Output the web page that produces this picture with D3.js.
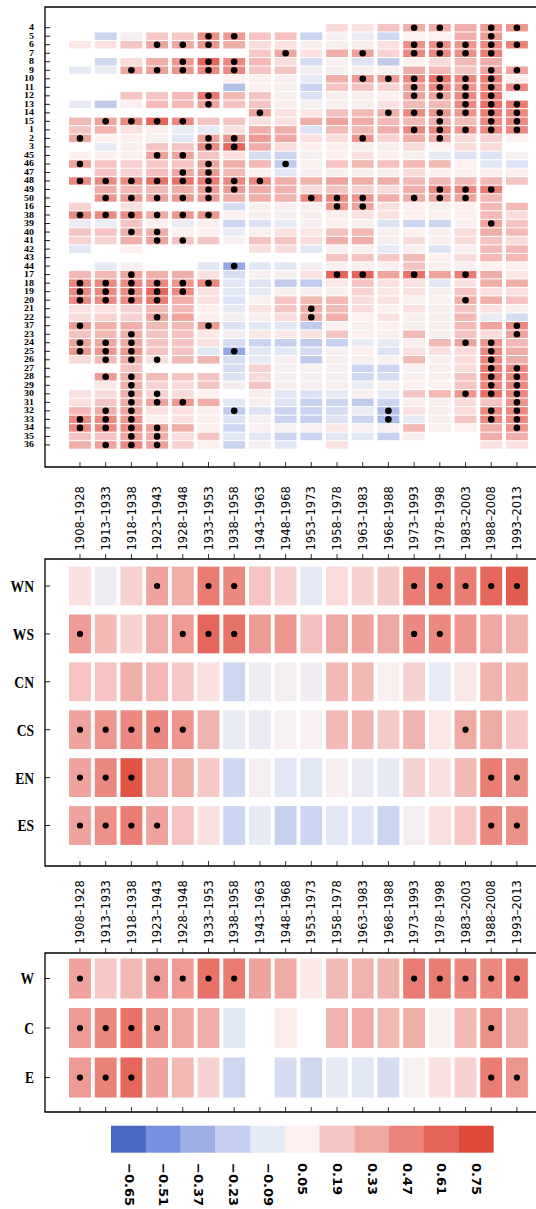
<!DOCTYPE html>
<html>
<head>
<meta charset="utf-8">
<script src="https://cdn.jsdelivr.net/npm/d3@7"></script>
<style>
  body { margin: 0; background: #fff; }
  svg { display: block; }
</style>
</head>
<body>
<svg id="chart" width="536" height="1209"></svg>
<script>
// 20-year moving windows
const periods = ["1908–1928","1913–1933","1918–1938","1923–1943","1928–1948","1933–1953",
  "1938–1958","1943–1963","1948–1968","1953–1973","1958–1978","1963–1983","1968–1988",
  "1973–1993","1978–1998","1983–2003","1988–2008","1993–2013"];

// station rows, top to bottom
const stations = ["4","5","6","7","8","9","10","11","12","13","14","15","1","2","3",
  "45","46","47","48","49","50","16","38","39","40","41","42","43","44","17","18","19",
  "20","21","22","37","23","24","25","26","27","28","29","30","31","32","33","34","35","36"];

// station correlation values (null = no data)
const stationValues = [
  [null,null,null,null,null,null,null,null,null,null,0.12,0.1,0.2,0.3,0.3,0.3,0.38,0.4],
  [null,-0.2,0.02,0.18,0.18,0.42,0.38,0.2,0.22,-0.2,0.02,-0.05,-0.18,0.05,0.05,0.3,0.38,null],
  [0.08,0.1,0.2,0.33,0.33,0.4,0.3,0.12,0.1,0.03,0.03,0.03,0.1,0.42,0.42,0.4,0.45,0.48],
  [null,null,null,null,null,null,null,0.18,0.33,0.1,0.3,0.35,0.15,0.45,0.45,0.42,0.48,null],
  [null,-0.18,0.12,0.3,0.4,0.6,0.45,0.25,0.12,-0.15,0.02,-0.12,-0.25,0.05,0.12,0.25,0.3,null],
  [-0.08,-0.05,0.33,0.36,0.4,0.45,0.45,0.2,0.2,0.0,0.03,0.03,0.03,0.3,0.25,0.2,0.35,0.35],
  [null,null,null,null,null,null,0.05,0.05,0.03,-0.08,0.3,0.38,0.38,0.45,0.55,0.45,0.5,0.03],
  [null,null,null,null,null,null,-0.3,0.05,0.03,-0.2,0.2,0.2,0.15,0.35,0.45,0.4,0.45,0.45],
  [null,null,0.2,0.2,0.25,0.52,0.25,0.2,0.03,-0.12,0.03,0.03,0.05,0.35,0.35,0.45,0.5,null],
  [-0.08,-0.25,0.02,0.25,0.25,0.35,0.2,0.2,0.03,0.02,0.03,0.03,0.1,0.25,0.25,0.45,0.55,0.5],
  [null,null,null,null,null,null,null,0.35,0.1,0.08,0.22,0.25,0.3,0.45,0.4,0.4,0.5,0.45],
  [0.25,0.35,0.45,0.6,0.45,0.2,0.2,0.1,0.1,0.3,0.35,0.3,0.25,0.25,0.3,0.25,0.45,0.45],
  [0.2,0.28,0.1,0.05,-0.05,-0.08,0.1,0.3,0.3,-0.12,0.25,0.25,0.3,0.45,0.45,0.4,0.45,0.45],
  [0.33,0.05,0.05,0.02,-0.1,0.35,0.4,0.38,0.33,0.1,0.12,0.4,0.15,0.3,0.3,0.12,0.15,0.05],
  [null,-0.08,0.03,0.2,0.2,0.45,0.6,0.3,0.12,0.05,0.05,0.03,0.03,0.12,0.05,0.12,0.12,null],
  [0.05,0.05,0.05,0.35,0.35,0.2,0.1,-0.15,-0.2,0.02,0.05,0.1,0.05,0.03,-0.08,-0.12,-0.12,0.02],
  [0.35,0.2,0.15,0.18,0.2,0.35,0.3,0.25,-0.25,0.03,0.2,0.25,0.22,0.25,0.25,0.05,-0.1,-0.12],
  [null,0.2,0.15,0.22,0.33,0.38,0.25,0.05,-0.1,0.02,0.03,0.03,0.03,0.12,0.05,0.05,0.05,0.05],
  [0.45,0.45,0.45,0.55,0.55,0.5,0.45,0.45,0.3,0.28,0.35,0.3,0.3,0.25,0.25,0.25,0.25,0.2],
  [null,0.3,0.25,0.25,0.3,0.38,0.38,0.3,0.28,0.12,0.2,0.15,0.12,0.3,0.45,0.45,0.5,null],
  [null,0.4,0.38,0.35,0.4,0.38,0.3,0.3,0.28,0.45,0.45,0.4,0.3,0.3,0.35,0.35,0.25,null],
  [0.15,null,0.1,null,null,null,-0.15,0.03,0.03,0.02,0.4,0.35,0.1,0.05,0.03,0.05,0.25,0.25],
  [0.45,0.45,0.45,0.3,0.4,0.4,0.05,0.03,0.02,0.03,0.03,0.1,0.1,0.05,0.05,0.05,0.25,0.12],
  [-0.05,-0.05,0.2,0.03,-0.05,0.03,-0.2,-0.12,-0.08,0.02,0.05,0.03,-0.12,-0.2,-0.2,0.03,0.35,0.2],
  [0.2,0.2,0.3,0.3,0.05,0.05,-0.05,0.03,0.1,0.08,0.22,0.25,0.03,0.05,0.03,0.12,0.3,0.25],
  [0.15,0.15,0.3,0.35,0.2,0.2,0.02,0.2,0.2,0.12,0.3,0.3,0.02,0.12,0.03,0.12,0.2,0.12],
  [-0.1,null,0.05,null,null,null,null,0.1,0.12,-0.1,0.03,0.03,-0.08,0.03,-0.12,0.03,0.25,0.25],
  [null,null,null,null,null,null,null,null,null,null,0.2,0.2,0.18,0.25,0.05,0.12,0.25,0.25],
  [null,-0.08,0.03,null,null,-0.1,-0.4,-0.1,-0.1,0.0,0.03,0.03,0.03,0.2,0.03,0.03,0.05,0.05],
  [0.25,0.25,0.35,0.3,0.3,0.1,-0.15,0.02,0.02,0.1,0.6,0.6,0.35,0.55,0.35,0.5,0.3,0.08],
  [0.45,0.45,0.45,0.45,0.4,0.45,-0.1,-0.12,-0.25,-0.25,0.08,0.2,0.1,0.1,-0.1,0.1,0.3,0.3],
  [0.45,0.45,0.45,0.6,0.45,0.1,-0.1,-0.08,0.03,0.02,0.03,0.15,0.08,0.1,0.03,0.2,0.1,0.1],
  [0.45,0.45,0.45,0.5,0.3,0.1,-0.12,0.03,0.2,0.25,0.25,0.12,0.1,0.03,0.03,0.3,0.3,0.2],
  [0.1,0.1,0.15,0.25,0.25,0.05,-0.08,0.1,0.2,0.3,0.25,0.12,0.05,0.1,0.03,0.2,0.1,0.03],
  [0.12,0.15,0.15,0.35,0.35,0.05,0.0,0.03,0.12,0.3,0.3,0.05,0.1,0.03,0.03,0.25,-0.05,-0.15],
  [0.38,0.3,0.3,0.25,0.25,0.38,-0.12,-0.1,-0.1,-0.25,0.03,0.03,0.05,0.03,0.03,0.25,0.35,0.45],
  [0.2,0.25,0.3,0.2,0.2,0.08,0.0,0.08,0.08,0.1,0.2,0.05,0.03,0.25,0.03,0.2,0.12,0.35],
  [0.35,0.33,0.33,0.2,0.2,0.1,-0.15,-0.2,-0.22,-0.25,-0.22,-0.05,-0.08,0.03,0.25,0.35,0.4,0.25],
  [0.4,0.4,0.4,0.2,0.2,-0.1,-0.4,-0.1,-0.1,-0.15,0.02,0.05,-0.12,0.1,0.1,0.12,0.45,0.3],
  [0.12,0.25,0.3,0.1,0.25,0.28,-0.15,-0.08,0.02,-0.25,0.03,0.02,0.02,0.25,0.03,0.12,0.45,0.3],
  [null,null,0.2,null,null,null,-0.15,0.15,0.02,0.02,0.02,-0.2,-0.2,0.02,0.03,0.12,0.5,0.45],
  [null,0.38,0.3,0.25,0.2,0.2,-0.12,0.12,0.02,0.02,0.02,-0.18,-0.15,0.03,0.03,0.2,0.5,0.45],
  [null,0.08,0.3,0.15,0.12,0.2,0.0,0.2,0.02,0.02,0.02,-0.05,0.02,0.05,0.05,0.2,0.45,0.45],
  [0.1,0.12,0.3,0.15,0.12,0.05,null,0.03,-0.1,-0.12,-0.08,0.02,-0.08,0.2,0.25,0.4,0.55,0.45],
  [0.1,0.2,0.3,0.35,0.4,0.3,-0.1,0.03,-0.12,-0.22,-0.2,-0.25,-0.2,0.03,0.03,0.12,0.2,0.4],
  [0.25,0.3,0.35,0.1,0.1,0.05,-0.25,-0.12,-0.2,-0.2,-0.15,-0.05,-0.3,0.1,0.03,0.12,0.45,0.45],
  [0.45,0.45,0.4,0.05,0.1,0.05,-0.12,0.02,-0.2,-0.22,-0.12,-0.2,-0.32,-0.08,0.03,0.2,0.45,0.45],
  [0.45,0.45,0.45,0.35,0.3,0.05,-0.18,0.02,0.02,0.02,0.08,0.02,0.02,0.25,0.03,0.05,0.3,0.4],
  [0.2,0.2,0.35,0.3,0.12,0.2,-0.1,-0.1,-0.2,-0.2,-0.1,-0.1,-0.22,0.03,null,null,0.3,0.3],
  [0.3,0.35,0.45,0.35,0.15,0.05,-0.2,0.02,-0.1,null,0.1,null,null,null,null,null,0.1,0.1]
];

// windows (column indices) where a station's correlation is significant
const stationSig = [
  [13,14,16,17],[5,6,16],[3,4,5,13,14,15,16,17],[8,11,13,14,15,16],[4,5,6],
  [2,3,4,5,6,16,17],[11,12,13,14,15,16],[13,14,15,16,17],[5,13,14,15,16],[5,15,16,17],
  [7,12,13,14,15,16,17],[1,2,3,4,14,16,17],[13,14,15,16,17],[0,5,6,11,14],[5,6],
  [3,4],[0,5,8],[4,5],[0,1,2,3,4,5,6,7],[5,6,14,15,16],
  [1,2,3,4,5,9,10,11,13,14,15],[10,11],[0,1,2,3,4,5],[16],[2,3],
  [3,4],[],[],[6],[2,10,11,13,15],
  [0,1,2,3,4,5],[0,1,2,3,4],[0,1,2,3,15],[9],[3,9],
  [0,5,17],[2,17],[0,1,2,15,16],[0,1,2,6,16],[1,2,3,16],
  [16,17],[1,2,16,17],[2,16,17],[2,3,15,16,17],[2,3,4,17],
  [1,2,6,12,16,17],[0,1,2,12,16,17],[0,1,2,3,17],[2,3],[1,2,3]
];

// sub-regions
const subregions = ["WN","WS","CN","CS","EN","ES"];
const subregionValues = [
  [0.1,-0.03,0.15,0.35,0.3,0.5,0.45,0.2,0.15,-0.08,0.12,0.15,0.18,0.5,0.55,0.5,0.6,0.65],
  [0.38,0.25,0.15,0.3,0.38,0.6,0.55,0.38,0.4,0.22,0.33,0.35,0.33,0.45,0.45,0.4,0.33,0.28],
  [0.2,0.2,0.3,0.25,0.18,0.1,-0.18,-0.03,0.0,-0.02,0.25,0.25,0.03,0.15,-0.07,0.08,0.28,0.25],
  [0.35,0.4,0.45,0.45,0.4,0.28,-0.06,-0.05,0.02,0.02,0.25,0.27,0.18,0.28,0.08,0.32,0.32,0.18],
  [0.35,0.45,0.7,0.3,0.3,0.18,-0.18,0.0,-0.1,-0.1,0.01,-0.05,-0.08,0.15,0.1,0.25,0.5,0.42],
  [0.35,0.42,0.5,0.35,0.2,0.1,-0.2,-0.08,-0.22,-0.2,-0.1,-0.12,-0.2,0.0,0.1,0.18,0.45,0.42]
];
const subregionSig = [
  [3,5,6,13,14,15,16,17],[0,4,5,6,13,14],[],[0,1,2,3,4,15],[0,1,2,16,17],[0,1,2,3,16,17]
];

// regions
const regions = ["W","C","E"];
const regionValues = [
  [0.35,0.18,0.25,0.38,0.38,0.55,0.5,0.35,0.32,0.07,0.25,0.28,0.27,0.5,0.5,0.45,0.45,0.5],
  [0.38,0.45,0.55,0.4,0.33,0.3,-0.1,null,0.06,null,0.28,0.32,0.25,0.3,0.03,0.25,0.42,0.28],
  [0.38,0.48,0.6,0.35,0.25,0.15,-0.18,null,-0.15,-0.18,-0.08,-0.1,-0.15,0.02,0.1,0.15,0.5,0.4]
];
const regionSig = [
  [0,3,4,5,6,13,14,15,16,17],[0,1,2,3,16],[0,1,2,16,17]
];

// colour bar
const legendTicks = [-0.65,-0.51,-0.37,-0.23,-0.09,0.05,0.19,0.33,0.47,0.61,0.75];
const legendColors = ["#4968c4","#768fde","#9eafe4","#c4ceee","#e4e9f6","#fdf0ee",
  "#f5c6c4","#eea8a2","#eb847a","#e56458","#de4a3a"];

const svg = d3.select("#chart");
const color = d3.scaleLinear().domain(legendTicks).range(legendColors).clamp(true);

const axisX = 45, rightX = 536;
const x = d3.scaleBand().domain(periods).range([65.2, 531.7]).padding(0.15);

const panels = [
  { rows: stations, values: stationValues, sig: stationSig,
    top: 7, bottom: 467, range: [22.93, 449.7], pad: 0.12, r: 3.3,
    font: 10, sx: 1.0, sy: 0.72, labels: false },
  { rows: subregions, values: subregionValues, sig: subregionSig,
    top: 559, bottom: 866, range: [557.5, 854.0], pad: 0.19, r: 3.1,
    font: 17, sx: 0.8, sy: 1, labels: true },
  { rows: regions, values: regionValues, sig: regionSig,
    top: 953, bottom: 1112, range: [949.05, 1107.0], pad: 0.19, r: 3.1,
    font: 17, sx: 0.8, sy: 1, labels: true }
];

panels.forEach(p => {
  const y = d3.scaleBand().domain(p.rows).range(p.range).padding(p.pad);
  const g = svg.append("g");

  // cells and significance dots
  p.rows.forEach((row, i) => {
    const cells = periods.map((per, j) => ({ per, v: p.values[i][j], s: p.sig[i].includes(j) }))
      .filter(d => d.v !== null);
    g.selectAll(null).data(cells).enter().append("rect")
      .attr("x", d => x(d.per))
      .attr("y", y(row))
      .attr("width", x.bandwidth())
      .attr("height", y.bandwidth())
      .attr("fill", d => color(d.v));
    g.selectAll(null).data(cells.filter(d => d.s)).enter().append("circle")
      .attr("cx", d => x(d.per) + x.bandwidth() / 2)
      .attr("cy", y(row) + y.bandwidth() / 2)
      .attr("r", p.r)
      .attr("fill", "#000");
  });

  // inward ticks on the left and bottom
  const left = g.append("g").attr("transform", `translate(${axisX},0)`)
    .call(d3.axisRight(y).tickSize(5).tickFormat(""));
  left.select(".domain").remove();
  left.selectAll("line").attr("stroke", "#000").attr("stroke-width", 0.9);

  const bottom = g.append("g").attr("transform", `translate(0,${p.bottom})`)
    .call(d3.axisTop(x).tickSize(5).tickFormat(""));
  bottom.select(".domain").remove();
  bottom.selectAll("line").attr("stroke", "#000").attr("stroke-width", 0.8);

  // period labels above the panel
  if (p.labels) {
    const topAxis = g.append("g").attr("transform", `translate(0,${p.top})`)
      .call(d3.axisTop(x).tickSize(5));
    topAxis.select(".domain").remove();
    topAxis.selectAll("line").attr("stroke", "#000").attr("stroke-width", 0.8);
    topAxis.selectAll("text")
      .attr("transform", "rotate(-90)")
      .attr("x", 8.5).attr("y", 0).attr("dy", "0.36em")
      .style("text-anchor", "start")
      .attr("font-family", "DejaVu Sans")
      .attr("font-size", 11.5)
      .attr("fill", "#000");
  }

  // row labels
  g.selectAll(null).data(p.rows).enter().append("g")
    .attr("transform", d => `translate(34,${y(d) + y.bandwidth() / 2}) scale(${p.sx},${p.sy})`)
    .append("text")
    .attr("text-anchor", "end")
    .attr("dy", "0.35em")
    .attr("font-family", "Liberation Serif")
    .attr("font-weight", "bold")
    .attr("font-size", p.font)
    .attr("fill", "#000")
    .text(d => d);

  // frame
  g.append("path")
    .attr("d", `M${rightX},${p.top}H${axisX}V${p.bottom}H${rightX}`)
    .attr("fill", "none")
    .attr("stroke", "#000")
    .attr("stroke-width", 1.3);
});

// colour bar
const lx = d3.scaleBand().domain(legendTicks).range([111, 493.3]);
const legend = svg.append("g");
legend.selectAll("rect").data(legendTicks).enter().append("rect")
  .attr("x", d => lx(d))
  .attr("y", 1125.7)
  .attr("width", lx.bandwidth() + 0.3)
  .attr("height", 27)
  .attr("fill", d => color(d));
legend.selectAll("g.lab").data(legendTicks).enter().append("g")
  .attr("class", "lab")
  .attr("transform", d => `translate(${lx(d) + lx.bandwidth() / 2 + 1},1163) rotate(90)`)
  .append("text")
  .attr("dy", "0.36em")
  .attr("font-family", "DejaVu Sans")
  .attr("font-weight", "bold")
  .attr("font-size", 13)
  .attr("fill", "#000")
  .text(d => (d < 0 ? "\u2212" : "") + Math.abs(d).toFixed(2));
</script>
</body>
</html>
